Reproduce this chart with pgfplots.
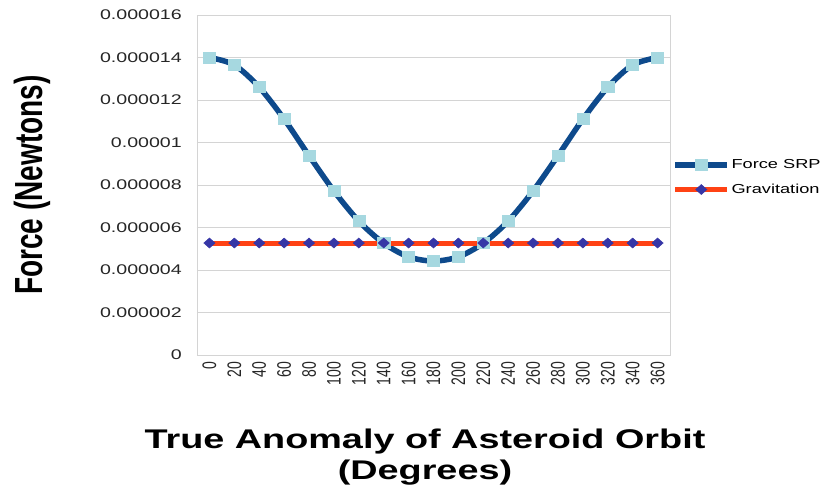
\documentclass[border=0pt]{standalone}
\usepackage{fontspec}
\setmainfont[FakeStretch=1.4]{Liberation Sans}
\newfontfamily\narrow{Liberation Sans}
\usepackage{graphicx}
\usepackage{pgfplots}
\pgfplotsset{compat=1.18}
\definecolor{srpblue}{HTML}{0E4A8C}
\definecolor{srpmark}{HTML}{A6D8E0}
\definecolor{gravred}{HTML}{FF4214}
\definecolor{gravmark}{HTML}{3636A6}
\definecolor{gridgray}{HTML}{D4D4D4}
\newcommand{\rl}[1]{\scalebox{1}[1.4]{\narrow #1}}
\begin{document}
\begin{tikzpicture}
\path[use as bounding box] (-197bp,-136bp) rectangle (629bp,355bp);
\begin{axis}[
  at={(0,0)}, anchor=south west,
  scale only axis, width=473bp, height=340bp,
  xmin=-10, xmax=370, ymin=0, ymax=0.000016,
  xtick={0,20,...,360},
  ytick={0,0.000002,0.000004,0.000006,0.000008,0.00001,0.000012,0.000014,0.000016},
  yticklabels={0,0.000002,0.000004,0.000006,0.000008,0.00001,0.000012,0.000014,0.000016},
  xticklabel={\rl{\pgfmathprintnumber[assume math mode=true,int detect]{\tick}}},
  scaled y ticks=false,
  major tick length=0pt,
  ymajorgrids, major grid style={gridgray, line width=0.8bp},
  axis line style={gridgray, line width=0.8bp},
  yticklabel style={font=\fontsize{14bp}{16bp}\selectfont, color=black!85, anchor=east, inner sep=0pt, xshift=-15bp},
  xticklabel style={font=\fontsize{14bp}{16bp}\selectfont, color=black!85, yshift=-7bp, rotate=90, anchor=east, inner sep=0pt},
  ylabel={\rl{\bfseries Force (Newtons)}},
  ylabel style={font=\fontsize{28bp}{32bp}\selectfont, at={(axis description cs:-0.349,0.5)}, anchor=center, inner sep=0pt},
  xlabel={True Anomaly of Asteroid Orbit\\(Degrees)},
  xlabel style={font=\fontsize{27bp}{31bp}\selectfont\bfseries, align=center, at={(axis description cs:0.482,0)}, anchor=north, inner sep=0pt, yshift=-74bp},
  clip=false,
  legend style={at={(axis description cs:1.005,0.58)}, anchor=north west, draw=none, fill=none,
    font=\fontsize{13bp}{15bp}\selectfont, row sep=11bp, inner sep=0pt,
    nodes={inner sep=1.5bp}},
  legend cell align=left,
  legend image code/.code={\draw[mark repeat=2,mark phase=2,#1] plot coordinates {(0bp,0bp) (26bp,0bp) (52bp,0bp)};},
]
\addplot[srpblue, line width=5.5bp, smooth, mark=square*, mark size=5.5bp,
  mark options={fill=srpmark, draw=srpmark, line width=0.5bp, xscale=1.1}] coordinates {
(0,0.0000140) (20,0.00001365) (40,0.0000126) (60,0.0000111) (80,0.00000938)
(100,0.00000772) (120,0.0000063) (140,0.00000526) (160,0.00000462) (180,0.00000442)
(200,0.00000462) (220,0.00000526) (240,0.0000063) (260,0.00000772) (280,0.00000938)
(300,0.0000111) (320,0.0000126) (340,0.00001365) (360,0.0000140)};
\addlegendentry{Force SRP}
\addplot[gravred, line width=5bp, mark=diamond*, mark size=5bp,
  mark options={fill=gravmark, draw=gravmark, line width=0.5bp, xscale=1.5}] coordinates {
(0,0.00000527) (20,0.00000527) (40,0.00000527) (60,0.00000527) (80,0.00000527)
(100,0.00000527) (120,0.00000527) (140,0.00000527) (160,0.00000527) (180,0.00000527)
(200,0.00000527) (220,0.00000527) (240,0.00000527) (260,0.00000527) (280,0.00000527)
(300,0.00000527) (320,0.00000527) (340,0.00000527) (360,0.00000527)};
\addlegendentry{Gravitation}
\end{axis}
\end{tikzpicture}
\end{document}
